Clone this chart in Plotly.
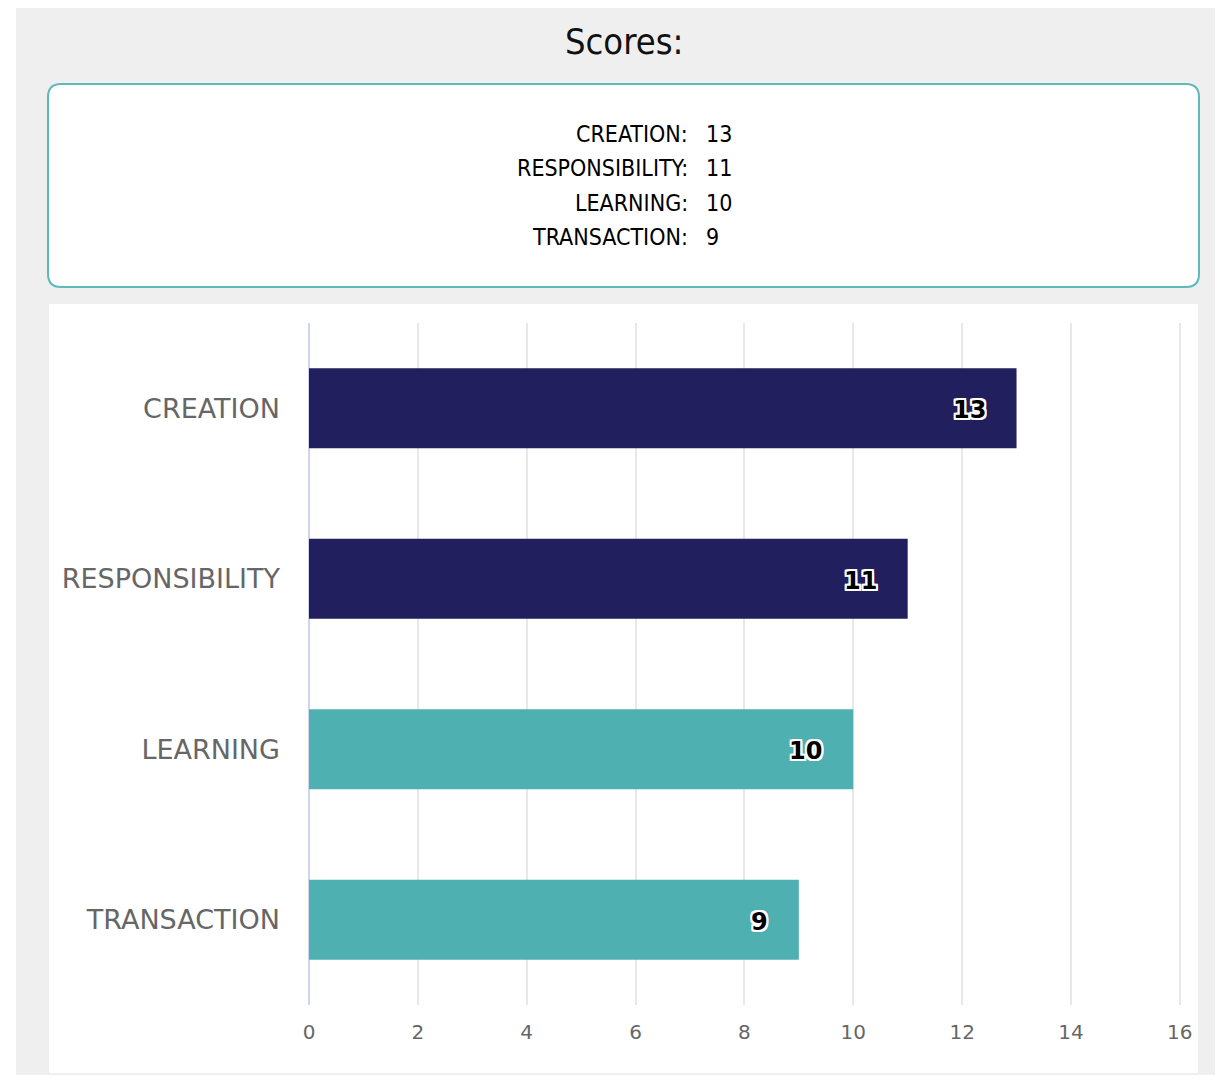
import plotly.graph_objects as go

categories = ["CREATION", "RESPONSIBILITY", "LEARNING", "TRANSACTION"]
scores = [13, 11, 10, 9]
bar_colors = ["#221f5f", "#221f5f", "#4fb0b1", "#4fb0b1"]
x_ticks = [0, 2, 4, 6, 8, 10, 12, 14, 16]
title_text = "Scores:"

W, H = 1212, 1067
ML, MR, MT, MB = 301, 38, 315, 70
PW = W - ML - MR
PH = H - MT - MB
X_MAX = 16.04


def px(lx):
    return (lx - ML) / PW


def py(ly):
    return (H - MB - ly) / PH


def rounded_rect(x0, y0, x1, y1, r):
    rx = r / PW
    ry = r / PH
    X0, X1 = px(x0), px(x1)
    Yt, Yb = py(y0), py(y1)
    return (f"M {X0+rx},{Yt} L {X1-rx},{Yt} Q {X1},{Yt} {X1},{Yt-ry} "
            f"L {X1},{Yb+ry} Q {X1},{Yb} {X1-rx},{Yb} "
            f"L {X0+rx},{Yb} Q {X0},{Yb} {X0},{Yb+ry} "
            f"L {X0},{Yt-ry} Q {X0},{Yt} {X0+rx},{Yt} Z")


fig = go.Figure()
fig.add_trace(go.Bar(
    x=scores, y=categories, orientation="h",
    marker=dict(color=bar_colors, line=dict(width=0)),
    width=0.47, hoverinfo="skip",
))

shapes = [
    dict(type="rect", xref="paper", yref="paper", x0=px(8), x1=px(1207), y0=py(-5), y1=py(H + 5),
         fillcolor="#efefef", line=dict(width=0), layer="below"),
    dict(type="rect", xref="paper", yref="paper", x0=px(41), x1=px(1190), y0=py(296), y1=py(1065),
         fillcolor="#ffffff", line=dict(width=0), layer="below"),
    dict(type="path", xref="paper", yref="paper", path=rounded_rect(40, 76, 1191, 279, 13),
         fillcolor="#ffffff", line=dict(color="#5cbaba", width=2), layer="below"),
]

annotations = [
    dict(text=title_text, xref="paper", yref="paper", x=px(615.5), y=py(34),
         xanchor="center", yanchor="middle", showarrow=False,
         font=dict(family="DejaVu Sans Condensed, DejaVu Sans", size=36, color="#111111")),
]

outline = ", ".join(f"{dx}px {dy}px 0 #fff" for dx, dy in
                    [(-2, -2), (2, -2), (-2, 2), (2, 2), (0, 2), (0, -2), (2, 0), (-2, 0)])

line_y0, line_dy = 126, 34.3
for i, (c, v) in enumerate(zip(categories, scores)):
    ly = line_y0 + i * line_dy
    annotations.append(dict(text=f"{c}:", xref="paper", yref="paper", x=px(682), y=py(ly),
                            xanchor="right", yanchor="middle", showarrow=False,
                            font=dict(family="DejaVu Sans Condensed, DejaVu Sans", size=23, color="#000000")))
    annotations.append(dict(text=str(v), xref="paper", yref="paper", x=px(696), y=py(ly),
                            xanchor="left", yanchor="middle", showarrow=False,
                            font=dict(family="DejaVu Sans Condensed, DejaVu Sans", size=23, color="#000000")))
    annotations.append(dict(text=f"<b>{v}</b>", x=v, y=c, xref="x", yref="y",
                            xanchor="right", yanchor="middle", xshift=-29, yshift=-2, showarrow=False,
                            font=dict(family="DejaVu Sans", size=24, color="#000000", shadow=outline)))

fig.update_layout(
    width=W, height=H,
    margin=dict(l=ML, r=MR, t=MT, b=MB, pad=0),
    paper_bgcolor="#ffffff",
    plot_bgcolor="rgba(0,0,0,0)",
    showlegend=False,
    shapes=shapes,
    annotations=annotations,
    xaxis=dict(range=[0, X_MAX], tickvals=x_ticks, ticktext=[str(t) for t in x_ticks],
               showgrid=True, gridcolor="#e8e8e8", gridwidth=2,
               zeroline=True, zerolinecolor="#cdd6ec", zerolinewidth=2,
               showline=False, ticks="", ticklabelstandoff=13,
               tickfont=dict(family="DejaVu Sans", size=20, color="#666666"), fixedrange=True),
    yaxis=dict(categoryorder="array", categoryarray=categories[::-1],
               showgrid=False, zeroline=False, showline=False, ticks="",
               ticklabelstandoff=28,
               tickfont=dict(family="DejaVu Sans", size=27, color="#666666"), fixedrange=True),
    bargap=0.53,
)

fig.write_html("out.html")
